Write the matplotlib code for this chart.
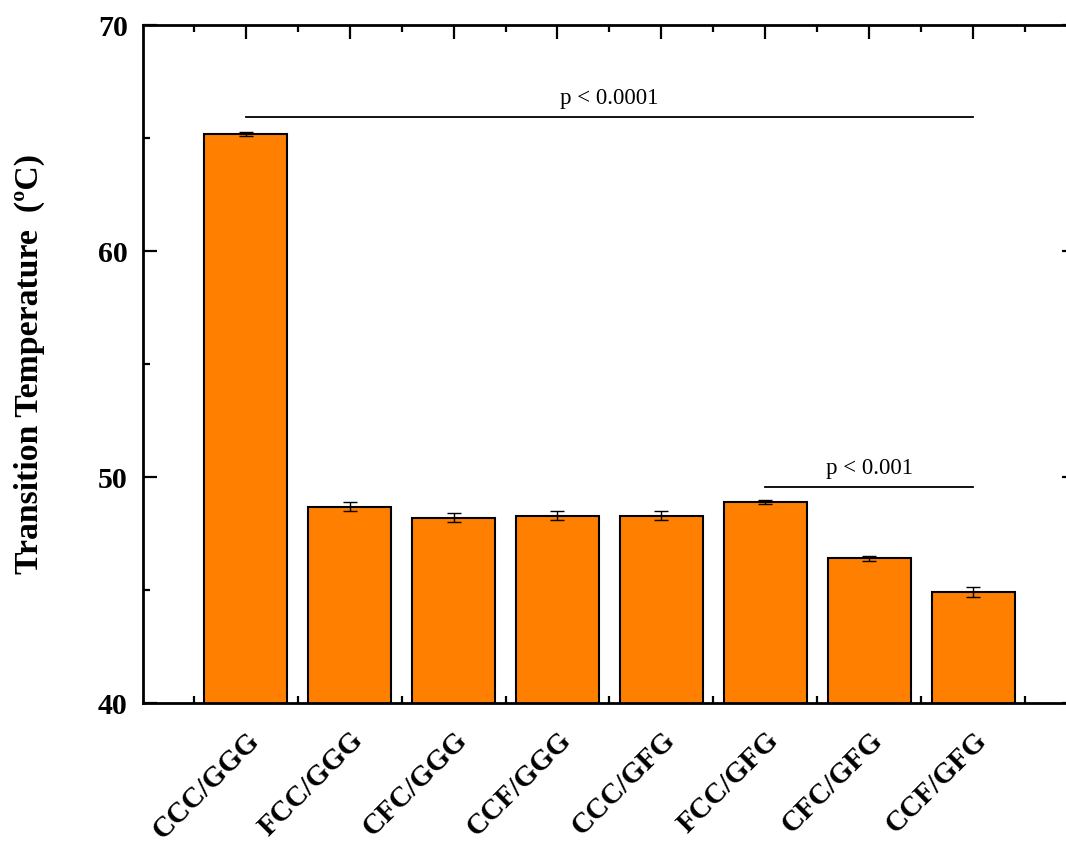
import matplotlib
matplotlib.use("Agg")
import matplotlib.pyplot as plt
from matplotlib.ticker import MultipleLocator, FixedLocator
import numpy as np

categories = ["CCC/GGG", "FCC/GGG", "CFC/GGG", "CCF/GGG", "CCC/GFG", "FCC/GFG", "CFC/GFG", "CCF/GFG"]
values = [65.18, 48.68, 48.2, 48.29, 48.29, 48.89, 46.4, 44.9]
errors = [0.08, 0.2, 0.2, 0.2, 0.2, 0.1, 0.1, 0.22]
sig_labels = ["p < 0.0001", "p < 0.001"]
sig_spans = [(0, 7), (5, 7)]
sig_heights = [65.95, 49.57]

plt.rcParams['font.family'] = ['Liberation Serif', 'DejaVu Serif']

fig = plt.figure(figsize=(10.66, 8.44), dpi=100)
ax = fig.add_axes([0.1341, 0.167, 0.8752, 0.803])

x = np.arange(len(categories))
ax.bar(x, values, width=0.8, color='#FF7F00', edgecolor='black', linewidth=1.5,
       yerr=errors, capsize=5, error_kw=dict(elinewidth=1, capthick=1, ecolor='black'), zorder=2)

ax.set_ylim(40, 70)
ax.set_xlim(-0.99, 7.99)
ax.yaxis.set_major_locator(MultipleLocator(10))
ax.yaxis.set_minor_locator(MultipleLocator(5))
ax.xaxis.set_major_locator(FixedLocator(x))
ax.xaxis.set_minor_locator(FixedLocator(np.arange(-0.5, 8, 1.0)))
ax.set_xticklabels(categories, rotation=45, ha='right', rotation_mode='anchor',
                   fontsize=21, fontweight='bold')
for lab in ax.get_yticklabels():
    lab.set_fontsize(21.5)
    lab.set_fontweight('bold')
ax.tick_params(which='both', direction='in', top=True, right=True, width=1.6)
ax.tick_params(which='major', length=10)
ax.tick_params(which='minor', length=5)
ax.tick_params(axis='x', which='major', pad=17)
ax.tick_params(axis='y', which='major', pad=11)
for s in ax.spines.values():
    s.set_linewidth(2)

ax.set_ylabel("Transition Temperature  (ºC)", fontsize=24.3, fontweight='bold')
ax.yaxis.set_label_coords(-0.105, 0.5)

for (a, b), h, lab in zip(sig_spans, sig_heights, sig_labels):
    ax.plot([a, b], [h, h], color='black', linewidth=1.3)
    ax.text((a + b) / 2, h + 0.35, lab, ha='center', va='bottom', fontsize=16.5)

fig.savefig("out.png", dpi=100)
